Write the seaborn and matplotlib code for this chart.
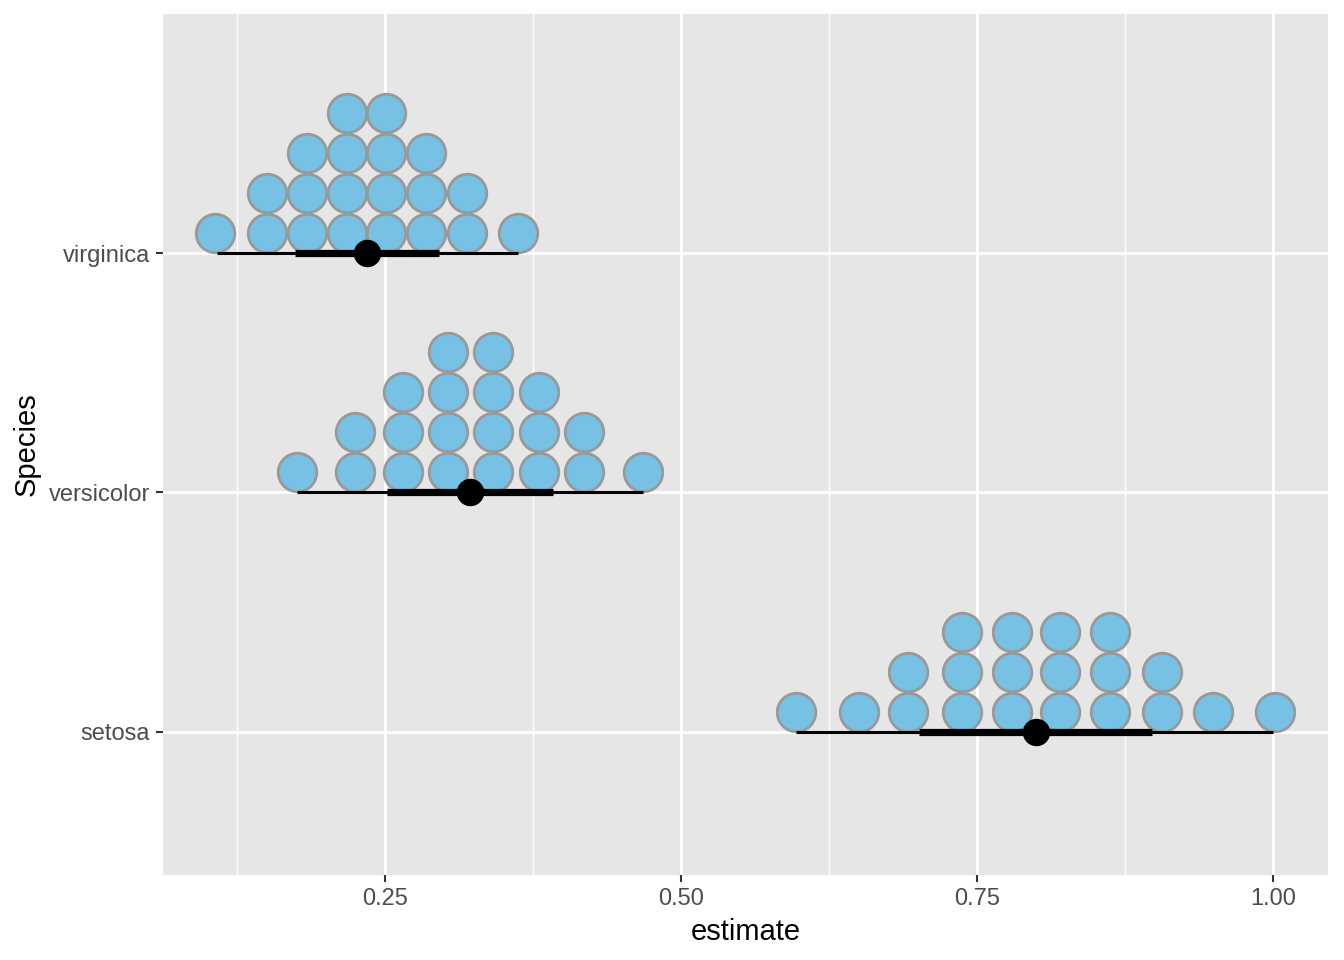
import numpy as np
import pandas as pd
import seaborn as sns
import matplotlib.pyplot as plt

# binned dot positions (estimate) and how many dots stack in each bin
species = ["setosa", "versicolor", "virginica"]

setosa_bins = [0.597, 0.650, 0.692, 0.737, 0.780, 0.820, 0.862, 0.906, 0.949, 1.002]
setosa_counts = [1, 1, 2, 3, 3, 3, 3, 2, 1, 1]

versicolor_bins = [0.176, 0.225, 0.265, 0.303, 0.341, 0.380, 0.418, 0.468]
versicolor_counts = [1, 2, 3, 4, 4, 3, 2, 1]

virginica_bins = [0.106, 0.150, 0.184, 0.218, 0.251, 0.285, 0.319, 0.362]
virginica_counts = [1, 2, 3, 4, 4, 3, 2, 1]

# point estimate and intervals (66% thick, 95% thin)
point_est = [0.800, 0.322, 0.235]
lo66 = [0.701, 0.252, 0.174]
hi66 = [0.898, 0.392, 0.296]
lo95 = [0.597, 0.176, 0.108]
hi95 = [1.000, 0.468, 0.362]

sns.set_theme(style="darkgrid")
plt.rcParams["font.family"] = ["Liberation Sans", "DejaVu Sans"]

fig = plt.figure(figsize=(13.44, 9.6), dpi=100)
ax = fig.add_axes([163 / 1344, 1 - 875 / 960, (1328 - 163) / 1344, (875 - 14) / 960])
ax.set_facecolor("#E6E6E6")

ylo, yhi = 0.4, 4.0
ax.set_xlim(0.0625, 1.0465)
ax.set_ylim(ylo, yhi)

# stacking step: one dot height (40 px) in data units
ax_h_px = 875 - 14
step = 40 / (ax_h_px / (yhi - ylo))

rows = []
for i, (bins, counts) in enumerate([(setosa_bins, setosa_counts),
                                    (versicolor_bins, versicolor_counts),
                                    (virginica_bins, virginica_counts)]):
    for b, c in zip(bins, counts):
        for k in range(c):
            rows.append({"species": species[i], "estimate": b,
                         "y": i + 1 + step / 2 + k * step})
dots = pd.DataFrame(rows)

sns.scatterplot(data=dots, x="estimate", y="y", ax=ax, s=770,
                color="#76C1E4", edgecolor="#999999", linewidth=2.0,
                zorder=3, legend=False)

ypos = np.arange(1, len(species) + 1)
ax.hlines(ypos, lo95, hi95, color="black", lw=2.2, zorder=4)
ax.hlines(ypos, lo66, hi66, color="black", lw=5.2, zorder=4)
ints = pd.DataFrame({"estimate": point_est, "y": ypos})
sns.scatterplot(data=ints, x="estimate", y="y", ax=ax, s=390,
                color="black", edgecolor="black", linewidth=0, zorder=5, legend=False)

ax.set_xticks([0.25, 0.50, 0.75, 1.00])
ax.set_xticklabels(["0.25", "0.50", "0.75", "1.00"])
ax.set_xticks([0.125, 0.375, 0.625, 0.875], minor=True)
ax.set_yticks(ypos)
ax.set_yticklabels(species)

ax.grid(which="major", color="white", lw=2.0)
ax.grid(which="minor", axis="x", color="white", lw=1.0)
ax.set_axisbelow(True)
for s in ax.spines.values():
    s.set_visible(False)

ax.tick_params(which="major", length=5.3, width=1.5, color="#333333",
               labelcolor="#4D4D4D", labelsize=17, pad=4)
ax.tick_params(which="minor", length=0)
ax.tick_params(axis="x", bottom=True)
ax.tick_params(axis="y", left=True)

ax.set_xlabel("estimate", fontsize=21, color="black", labelpad=6)
ax.set_ylabel("Species", fontsize=21, color="black", labelpad=6)

fig.savefig("out.png", dpi=100, facecolor="white")
